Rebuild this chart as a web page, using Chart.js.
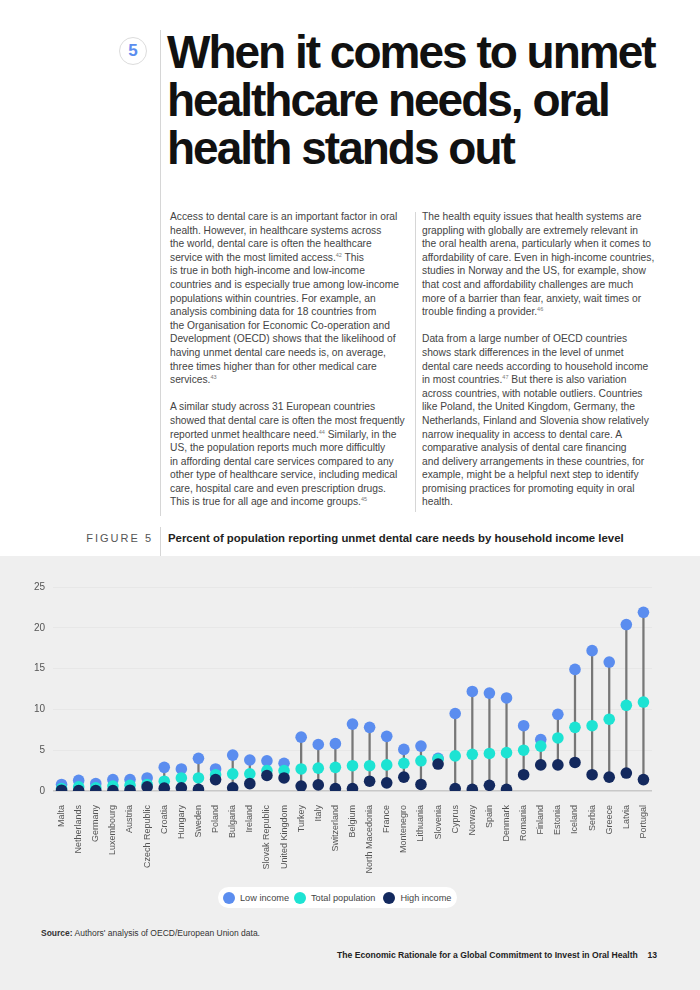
<!DOCTYPE html>
<html>
<head>
<meta charset="utf-8">
<script src="https://cdn.jsdelivr.net/npm/chart.js@4.4.1/dist/chart.umd.min.js"></script>
<style>
  html, body { margin: 0; padding: 0; }
  body { width: 700px; height: 990px; position: relative; background: #fff; font-family: "Liberation Sans", Arial, Helvetica, sans-serif; overflow: hidden; }
  .abs { position: absolute; }
  .num { left: 119px; top: 37px; width: 26px; height: 26px; border: 1px solid #dcdcdc; border-radius: 50%; color: #5b8def; font-weight: bold; font-size: 17px; line-height: 26px; text-align: center; }
  .rule { background: #d6d6d6; width: 1px; }
  h1 { position: absolute; left: 167px; top: 28px; margin: 0; font-size: 46px; line-height: 48px; letter-spacing: -2px; font-weight: bold; color: #111; white-space: nowrap; }
  .col { position: absolute; top: 210px; font-size: 10.25px; line-height: 13.6px; color: #444; white-space: nowrap; }
  .col sup { font-size: 5.5px; vertical-align: 4px; line-height: 0; color: #777; }
  .figlab { left: 60px; width: 93px; top: 532px; text-align: right; font-size: 11px; letter-spacing: 2px; color: #555; }
  .figtitle { left: 168px; top: 532px; font-size: 11.4px; font-weight: bold; color: #222; white-space: nowrap; }
  .panel { left: 0; top: 556px; width: 700px; height: 434px; background: #efefef; }
  .legend { left: 218px; top: 887px; height: 21px; padding: 0 6px 0 5px; background: #fff; border-radius: 11px; display: flex; align-items: center; font-size: 9.2px; color: #444; white-space: nowrap; }
  .legend span.dot { display: inline-block; width: 12px; height: 12px; border-radius: 50%; margin-right: 5px; }
  .src { left: 41px; top: 928px; font-size: 8.5px; color: #333; }
  .foot { left: 337px; top: 950px; font-size: 8.6px; font-weight: bold; color: #222; white-space: nowrap; }
</style>
</head>
<body>
<div class="abs num">5</div>
<div class="abs rule" style="left:160px; top:30px; height:486px;"></div>
<h1>When it comes to unmet<br>healthcare needs, oral<br>health stands out</h1>

<div class="col" style="left:170px;">
Access to dental care is an important factor in oral<br>
health. However, in healthcare systems across<br>
the world, dental care is often the healthcare<br>
service with the most limited access.<sup>42</sup> This<br>
is true in both high-income and low-income<br>
countries and is especially true among low-income<br>
populations within countries. For example, an<br>
analysis combining data for 18 countries from<br>
the Organisation for Economic Co-operation and<br>
Development (OECD) shows that the likelihood of<br>
having unmet dental care needs is, on average,<br>
three times higher than for other medical care<br>
services.<sup>43</sup><br>
<br>
A similar study across 31 European countries<br>
showed that dental care is often the most frequently<br>
reported unmet healthcare need.<sup>44</sup> Similarly, in the<br>
US, the population reports much more difficultly<br>
in affording dental care services compared to any<br>
other type of healthcare service, including medical<br>
care, hospital care and even prescription drugs.<br>
This is true for all age and income groups.<sup>45</sup>
</div>
<div class="abs rule" style="left:415px; top:212px; height:300px;"></div>
<div class="col" style="left:422px;">
The health equity issues that health systems are<br>
grappling with globally are extremely relevant in<br>
the oral health arena, particularly when it comes to<br>
affordability of care. Even in high-income countries,<br>
studies in Norway and the US, for example, show<br>
that cost and affordability challenges are much<br>
more of a barrier than fear, anxiety, wait times or<br>
trouble finding a provider.<sup>46</sup><br>
<br>
Data from a large number of OECD countries<br>
shows stark differences in the level of unmet<br>
dental care needs according to household income<br>
in most countries.<sup>47</sup> But there is also variation<br>
across countries, with notable outliers. Countries<br>
like Poland, the United Kingdom, Germany, the<br>
Netherlands, Finland and Slovenia show relatively<br>
narrow inequality in access to dental care. A<br>
comparative analysis of dental care financing<br>
and delivery arrangements in these countries, for<br>
example, might be a helpful next step to identify<br>
promising practices for promoting equity in oral<br>
health.
</div>

<div class="abs figlab">FIGURE 5</div>
<div class="abs rule" style="left:160px; top:527px; height:29px;"></div>
<div class="abs figtitle">Percent of population reporting unmet dental care needs by household income level</div>

<div class="abs panel"></div>
<div class="abs" style="left:0; top:570px; width:700px; height:320px;">
  <canvas id="unmetChart" width="700" height="320"></canvas>
</div>

<div class="abs legend">
  <span class="dot" style="background:#5b8def"></span>Low income
  <span class="dot" style="background:#1de3d3; margin-left:5px"></span>Total population
  <span class="dot" style="background:#13295e; margin-left:8px"></span>High income
</div>

<div class="abs src"><b>Source:</b> Authors' analysis of OECD/European Union data.</div>
<div class="abs foot">The Economic Rationale for a Global Commitment to Invest in Oral Health&nbsp;&nbsp;&nbsp;&nbsp;13</div>

<script>
const countries = ["Malta", "Netherlands", "Germany", "Luxembourg", "Austria", "Czech Republic", "Croatia",
  "Hungary", "Sweden", "Poland", "Bulgaria", "Ireland", "Slovak Republic", "United Kingdom", "Turkey",
  "Italy", "Switzerland", "Belgium", "North Macedonia", "France", "Montenegro", "Lithuania", "Slovenia",
  "Cyprus", "Norway", "Spain", "Denmark", "Romania", "Finland", "Estonia", "Iceland", "Serbia", "Greece",
  "Latvia", "Portugal"];
const lowIncome = [0.8, 1.3, 0.9, 1.4, 1.4, 1.6, 2.9, 2.7, 4.0, 2.7, 4.4, 3.8, 3.7, 3.4, 6.6,
  5.7, 5.8, 8.2, 7.8, 6.7, 5.1, 5.5, 4.0, 9.5, 12.2, 12.0, 11.4, 8.0, 6.3, 9.4, 14.9, 17.2, 15.8, 20.4, 21.9];
const totalPopulation = [0.3, 0.5, 0.4, 0.6, 0.7, 0.8, 1.2, 1.6, 1.6, 2.0, 2.1, 2.1, 2.5, 2.5, 2.7,
  2.8, 2.9, 3.1, 3.1, 3.2, 3.4, 3.7, 3.9, 4.3, 4.5, 4.6, 4.7, 5.0, 5.5, 6.5, 7.8, 8.0, 8.8, 10.5, 10.9];
const highIncome = [0.1, 0.05, 0.05, 0.05, 0.1, 0.5, 0.35, 0.4, 0.2, 1.4, 0.4, 0.9, 1.9, 1.6, 0.6,
  0.75, 0.3, 0.3, 1.2, 1.0, 1.7, 0.8, 3.3, 0.3, 0.2, 0.7, 0.2, 2.0, 3.2, 3.2, 3.5, 2.0, 1.7, 2.2, 1.4];
const yTicks = [0, 5, 10, 15, 20, 25];

function CreateChart() {
    const ranges = [];
    for (let i = 0; i < countries.length; i++) {
        const vals = [lowIncome[i], totalPopulation[i], highIncome[i]];
        ranges.push([Math.min(...vals), Math.max(...vals)]);
    }

    const dot = (label, data, color, order) => ({
        type: 'line',
        label: label,
        data: data,
        showLine: false,
        pointRadius: 5.8,
        pointHoverRadius: 5.8,
        pointBackgroundColor: color,
        pointBorderWidth: 0,
        borderColor: color,
        backgroundColor: color,
        order: order
    });

    const ctx = document.getElementById('unmetChart');
    new Chart(ctx, {
        type: 'bar',
        data: {
            labels: countries,
            datasets: [
                dot("High income", highIncome, '#13295e', 1),
                dot("Total population", totalPopulation, '#1de3d3', 2),
                dot("Low income", lowIncome, '#5b8def', 3),
                {
                    type: 'bar',
                    label: 'range',
                    data: ranges,
                    backgroundColor: '#777777',
                    barThickness: 1.6,
                    order: 4
                }
            ]
        },
        options: {
            responsive: false,
            animation: false,
            layout: { padding: { left: 0, right: 48, top: 17, bottom: 0 } },
            plugins: { legend: { display: false }, tooltip: { enabled: false } },
            scales: {
                x: {
                    offset: true,
                    grid: { display: false },
                    border: { display: false },
                    ticks: {
                        autoSkip: false,
                        minRotation: 90,
                        maxRotation: 90,
                        padding: 6,
                        color: '#555',
                        font: { family: 'Liberation Sans, Arial, sans-serif', size: 9 }
                    },
                    afterFit: function (scale) { scale.height = 99; }
                },
                y: {
                    min: 0,
                    max: 25,
                    border: { display: false },
                    grid: {
                        drawTicks: false,
                        lineWidth: function (c) { return c.tick && c.tick.value === 0 ? 1.5 : 1; },
                        color: function (c) { return c.tick && c.tick.value === 0 ? '#c8c8c8' : '#e7e7e7'; }
                    },
                    afterBuildTicks: function (scale) {
                        scale.ticks = yTicks.map(function (v) { return { value: v }; });
                    },
                    ticks: {
                        padding: 8,
                        color: '#555',
                        font: { family: 'Liberation Sans, Arial, sans-serif', size: 10 }
                    },
                    afterFit: function (scale) { scale.width = 53; }
                }
            }
        }
    });
}

CreateChart();
</script>
</body>
</html>
